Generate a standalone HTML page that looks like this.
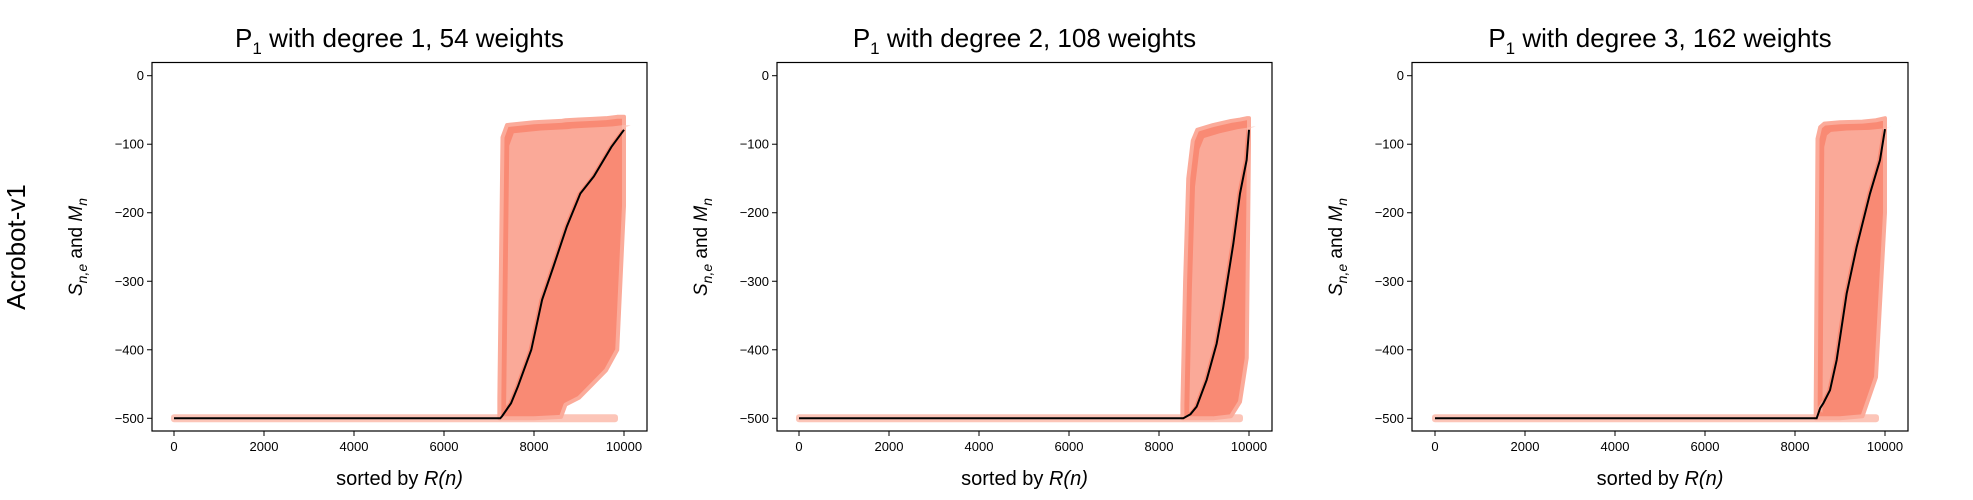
<!DOCTYPE html>
<html><head><meta charset="utf-8">
<style>
html,body{margin:0;padding:0;background:#fff;width:1973px;height:500px;overflow:hidden}
svg text{font-family:"Liberation Sans",sans-serif;fill:#000}
</style></head>
<body>
<svg id="fig" width="1973" height="500" xmlns="http://www.w3.org/2000/svg">
<text x="0" y="0" font-size="26" text-anchor="middle" transform="translate(25,247) rotate(-90)">Acrobot-v1</text>
</svg>
<script>
// ---- data ----
const titles = ["1, 54", "2, 108", "3, 162"];
const xTicks = [0, 2000, 4000, 6000, 8000, 10000];
const yTicks = [0, -100, -200, -300, -400, -500];
// mean line M_n (x, y) per panel
const meanX1 = [0, 7250, 7290, 7490, 7640, 7940, 8180, 8430, 8730, 9030, 9330, 9720, 10000];
const meanY1 = [-500, -500, -497, -478, -454, -400, -327, -279, -220, -172, -147, -104, -79];
const meanX2 = [0, 8540, 8700, 8837, 9059, 9281, 9430, 9652, 9800, 9948, 10000];
const meanY2 = [-500, -500, -494, -483, -444, -391, -337, -245, -172, -123, -79];
const meanX3 = [0, 8481, 8560, 8630, 8778, 8926, 9148, 9370, 9667, 9889, 10000];
const meanY3 = [-500, -500, -485, -478, -459, -415, -318, -250, -172, -123, -78];
// scatter envelope: x, upper bound, lower bound
const envX1 = [7230, 7300, 7400, 8000, 8600, 8700, 9000, 9300, 9600, 9850, 10000];
const envU1 = [-470, -90, -72, -68, -66, -65, -64, -63, -62, -60, -60];
const envL1 = [-500, -500, -500, -500, -498, -480, -470, -450, -430, -400, -190];
const envX2 = [8520, 8580, 8650, 8750, 8850, 9200, 9600, 9800, 9950, 10000];
const envU2 = [-480, -300, -150, -95, -79, -72, -66, -64, -62, -62];
const envL2 = [-500, -500, -500, -500, -500, -500, -497, -476, -412, -100];
const envX3 = [8460, 8500, 8560, 8650, 9000, 9500, 9800, 10000];
const envU3 = [-480, -92, -75, -70, -68, -67, -65, -62];
const envL3 = [-500, -500, -500, -500, -500, -497, -440, -200];
const bandEnd = [9800, 9800, 9800];

const panels = [
  {x0:174, fl:152, fr:647, mx:meanX1, my:meanY1, ex:envX1, eu:envU1, el:envL1},
  {x0:799, fl:777, fr:1272, mx:meanX2, my:meanY2, ex:envX2, eu:envU2, el:envL2},
  {x0:1435, fl:1412, fr:1908, mx:meanX3, my:meanY3, ex:envX3, eu:envU3, el:envL3}
];
const NS = "http://www.w3.org/2000/svg";
const svg = document.getElementById('fig');
function mk(tag, attrs, parent){const e=document.createElementNS(NS,tag);for(const k in attrs)e.setAttribute(k,attrs[k]);(parent||svg).appendChild(e);return e;}
const axTop=62.5, axBot=431;
function ys(v){return 75.7 + (-v)*0.6852;}

panels.forEach((p,i)=>{
  const xs = v => p.x0 + v*0.045;
  const g = mk('g',{});
  
  
  // band at -500
  const band = mk('rect',{x:xs(0)-3,y:ys(-500)-4,width:xs(bandEnd[i])-xs(0)+6,height:8,fill:'#fcc5b8',rx:3},g);
  
  
  // envelope
  let pts=[];
  for(let k=0;k<p.ex.length;k++) pts.push(xs(p.ex[k])+','+ys(p.eu[k]));
  for(let k=p.ex.length-1;k>=0;k--) pts.push(xs(p.ex[k])+','+ys(p.el[k]));
  const cloud = mk('polygon',{points:pts.join(' '),fill:'#f98a74',stroke:'#fbab9a','stroke-width':4,'stroke-linejoin':'round'},g);
  
  
  // lighter core between upper bound and mean line
  let cp=[];
  for(let k=0;k<p.ex.length;k++) cp.push(xs(p.ex[k]+150)+','+ys(p.eu[k]-12));
  for(let k=p.mx.length-1;k>=0;k--) if(p.mx[k]>p.ex[1]) cp.push(xs(p.mx[k]-60)+','+ys(p.my[k]));
  const core = mk('polygon',{points:cp.join(' '),fill:'#fcc3b6',opacity:0.55},g);
  
  
  // mean line
  const d = p.mx.map((v,k)=>(k?'L':'M')+xs(v)+','+ys(p.my[k])).join(' ');
  const ln = mk('path',{d:d,fill:'none',stroke:'#000','stroke-width':2},g);
  
  
  // frame
  const fr = mk('rect',{x:p.fl,y:axTop,width:p.fr-p.fl,height:axBot-axTop,fill:'none',stroke:'#000','stroke-width':1.2},g);
  
  
  // ticks
  yTicks.forEach(v=>{
    mk('line',{x1:p.fl-5,x2:p.fl,y1:ys(v),y2:ys(v),stroke:'#000','stroke-width':1},g);
    const t = mk('text',{x:p.fl-8,y:ys(v)+4.5,'font-size':13,'text-anchor':'end'},g);
    t.textContent = v<0 ? '\u2212'+(-v) : String(v);
    
    
  });
  xTicks.forEach(v=>{
    mk('line',{x1:xs(v),x2:xs(v),y1:axBot,y2:axBot+5,stroke:'#000','stroke-width':1},g);
    const t = mk('text',{x:xs(v),y:axBot+20,'font-size':13,'text-anchor':'middle'},g);
    t.textContent = String(v);
    
    
  });
  const cx=(p.fl+p.fr)/2;
  // title
  const tt = mk('text',{x:cx,y:47,'font-size':26,'text-anchor':'middle'},g);
  tt.innerHTML = 'P<tspan font-size="17" dy="7">1</tspan><tspan dy="-7"> with degree '+titles[i]+' weights</tspan>';
  
  
  // x label
  const xl = mk('text',{x:cx,y:485,'font-size':20,'text-anchor':'middle'},g);
  xl.innerHTML = 'sorted by <tspan font-style="italic">R(n)</tspan>';
  
  
  // y label
  const yl = mk('text',{x:0,y:0,'font-size':19,'text-anchor':'middle',transform:'translate('+(p.fl-70)+',247) rotate(-90)'},g);
  yl.innerHTML = '<tspan font-style="italic">S</tspan><tspan font-style="italic" font-size="14" dy="5">n,e</tspan><tspan dy="-5"> and </tspan><tspan font-style="italic">M</tspan><tspan font-style="italic" font-size="14" dy="5">n</tspan>';
  
  
});
</script>
</body></html>
